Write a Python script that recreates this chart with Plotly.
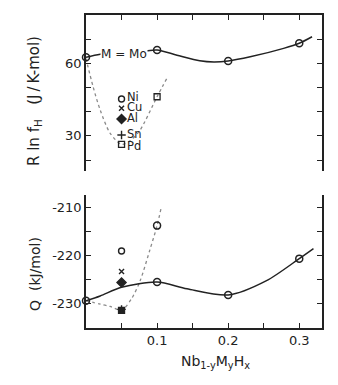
import plotly.graph_objects as go

# ---- data ----
mo_x = [0.0, 0.1, 0.2, 0.3]
mo_R = [62.5, 65.5, 61.0, 68.3]
mo_Q = [-229.4, -225.5, -228.2, -220.6]

pd_x = [0.05, 0.1]
pd_R = [26.5, 46.2]
pd_Q = [-231.4, -213.7]

sub_x = 0.05
elements = ["Ni", "Cu", "Al", "Sn", "Pd"]
sub_R = {"Ni": 45.3, "Cu": 41.4, "Al": 37.0, "Sn": 30.4}
sub_Q = {"Ni": -219.0, "Cu": -223.3, "Al": -225.6, "Sn": -231.2}
label_R = [46.0, 41.8, 37.6, 30.9, 26.0]

# guide curves
solidR_x = [0.0, 0.02, 0.05, 0.085, 0.1, 0.128, 0.16, 0.18, 0.2, 0.231, 0.278, 0.3, 0.318]
solidR_y = [62.5, 63.8, 64.5, 65.2, 65.5, 63.4, 61.1, 60.6, 61.0, 62.7, 66.2, 68.3, 71.0]
dotR_x = [0.0, 0.01, 0.02, 0.034, 0.05, 0.062, 0.076, 0.1, 0.115]
dotR_y = [62.0, 50.3, 40.7, 31.1, 26.5, 28.0, 32.4, 46.2, 54.5]
solidQ_x = [0.0, 0.02, 0.05, 0.1, 0.142, 0.2, 0.254, 0.3, 0.32]
solidQ_y = [-229.4, -228.4, -226.6, -225.5, -226.9, -228.2, -225.2, -220.6, -218.5]
dotQ_x = [0.0, 0.02, 0.034, 0.05, 0.064, 0.076, 0.09, 0.1, 0.106]
dotQ_y = [-229.4, -230.1, -230.6, -231.4, -229.0, -225.3, -218.7, -213.7, -209.8]

R_ticks = [20, 30, 40, 50, 60, 70]
R_labels = ["", "30", "", "", "60", ""]
Q_ticks = [-230, -225, -220, -215, -210]
Q_labels = ["-230", "", "-220", "", "-210"]
x_ticks = [0.05, 0.1, 0.15, 0.2, 0.25, 0.3]
x_labels = ["", "0.1", "", "0.2", "", "0.3"]

INK = "#222222"
FONT = "DejaVu Sans"

fig = go.Figure()

def add(x, y, xa, ya, **kw):
    fig.add_trace(go.Scatter(x=x, y=y, xaxis=xa, yaxis=ya, showlegend=False,
                             hoverinfo="skip", cliponaxis=False, **kw))

# top panel
add(dotR_x, dotR_y, "x2", "y2", mode="lines",
    line=dict(color="#8a8a8a", width=1.3, dash="dot", shape="spline", smoothing=0.8))
add(solidR_x, solidR_y, "x2", "y2", mode="lines",
    line=dict(color=INK, width=1.5, shape="spline", smoothing=0.8))
add(mo_x, mo_R, "x2", "y2", mode="markers",
    marker=dict(symbol="circle-open", size=7, color=INK, line=dict(width=1.5)))
add(pd_x, pd_R, "x2", "y2", mode="markers",
    marker=dict(symbol="square-open", size=6, color=INK, line=dict(width=1.3)))
# bottom panel
add(dotQ_x, dotQ_y, "x", "y", mode="lines",
    line=dict(color="#8a8a8a", width=1.3, dash="dot", shape="spline", smoothing=0.8))
add(solidQ_x, solidQ_y, "x", "y", mode="lines",
    line=dict(color=INK, width=1.5, shape="spline", smoothing=0.8))
add(mo_x, mo_Q, "x", "y", mode="markers",
    marker=dict(symbol="circle-open", size=7, color=INK, line=dict(width=1.5)))
add(pd_x[:1], pd_Q[:1], "x", "y", mode="markers",
    marker=dict(symbol="square", size=6, color=INK, line=dict(width=1.3, color=INK)))
add(pd_x[1:], pd_Q[1:], "x", "y", mode="markers",
    marker=dict(symbol="circle-open", size=7, color=INK, line=dict(width=1.5)))

symbols = {"Ni": ("circle-open", 6), "Cu": ("x-thin-open", 5), "Al": ("diamond", 7),
           "Sn": ("cross-thin-open", 6)}
for el, (sym, sz) in symbols.items():
    for ya, val in (("y2", sub_R[el]), ("y", sub_Q[el])):
        add([sub_x], [val], "x2" if ya == "y2" else "x", ya, mode="markers",
            marker=dict(symbol=sym, size=sz, color=INK, line=dict(width=1.4, color=INK)))

for el, yv in zip(elements, label_R):
    fig.add_annotation(x=sub_x, y=yv, xref="x2", yref="y2", text=el, showarrow=False,
                       xanchor="left", yanchor="middle", xshift=3,
                       font=dict(family=FONT, size=11.5, color=INK))
fig.add_annotation(x=0.053, y=63.9, xref="x2", yref="y2", text="M = Mo", showarrow=False,
                   xanchor="center", yanchor="middle", bgcolor="white", borderpad=0,
                   font=dict(family=FONT, size=12, color=INK))

# page pixel geometry (browser body has an 8px margin)
OFF = 8
W, H = 338, 385
ml, mr, mt, mb = 86, 16, 15, 57          # target plot-area edges in window pixels
pw, ph = W - ml - mr, H - mt - mb
def px(xp): return (xp - ml) / pw
def py(yp): return (H - mb - yp) / ph

fig.add_annotation(x=px(34), y=py(101), xref="paper", yref="paper", showarrow=False,
                   xanchor="center", yanchor="middle",
                   text="R\u00a0ln\u00a0f<sub>H</sub>\u00a0\u00a0\u00a0(J\u2009/\u2009K-mol)",
                   textangle=-90, font=dict(family=FONT, size=15, color=INK))
fig.add_annotation(x=px(35), y=py(274), xref="paper", yref="paper", showarrow=False,
                   xanchor="center", yanchor="middle",
                   text="Q\u00a0\u00a0(kJ/mol)", textangle=-90,
                   font=dict(family=FONT, size=14, color=INK))
fig.add_annotation(x=px(215), y=py(362), xref="paper", yref="paper", showarrow=False,
                   xanchor="center", yanchor="middle",
                   text="Nb<sub>1-y</sub>M<sub>y</sub>H<sub>x</sub>",
                   font=dict(family=FONT, size=14, color=INK))

axis_common = dict(showline=True, linecolor=INK, linewidth=1.5, ticks="inside",
                   ticklen=5, tickwidth=1.3, tickcolor=INK, showgrid=False, zeroline=False,
                   tickfont=dict(family=FONT, size=13, color=INK))

fig.update_layout(
    width=W - OFF, height=H - OFF,
    margin=dict(l=ml - OFF, r=mr, t=mt - OFF, b=mb, autoexpand=False),
    paper_bgcolor="white", plot_bgcolor="white",
    xaxis=dict(range=[0, 0.332], domain=[0, 1], anchor="y", tickvals=x_ticks,
               ticktext=x_labels, **axis_common),
    xaxis2=dict(range=[0, 0.332], domain=[0, 1], anchor="y2", side="top", tickvals=x_ticks,
                showticklabels=False, **axis_common),
    yaxis=dict(range=[-235.1, -207.3], domain=[0, py(195)], anchor="x", tickvals=Q_ticks,
               ticktext=Q_labels, mirror="ticks", **axis_common),
    yaxis2=dict(range=[15.5, 80], domain=[py(171), 1], anchor="x2", tickvals=R_ticks,
                ticktext=R_labels, mirror="ticks", **axis_common),
)

fig.write_html("out.html")
